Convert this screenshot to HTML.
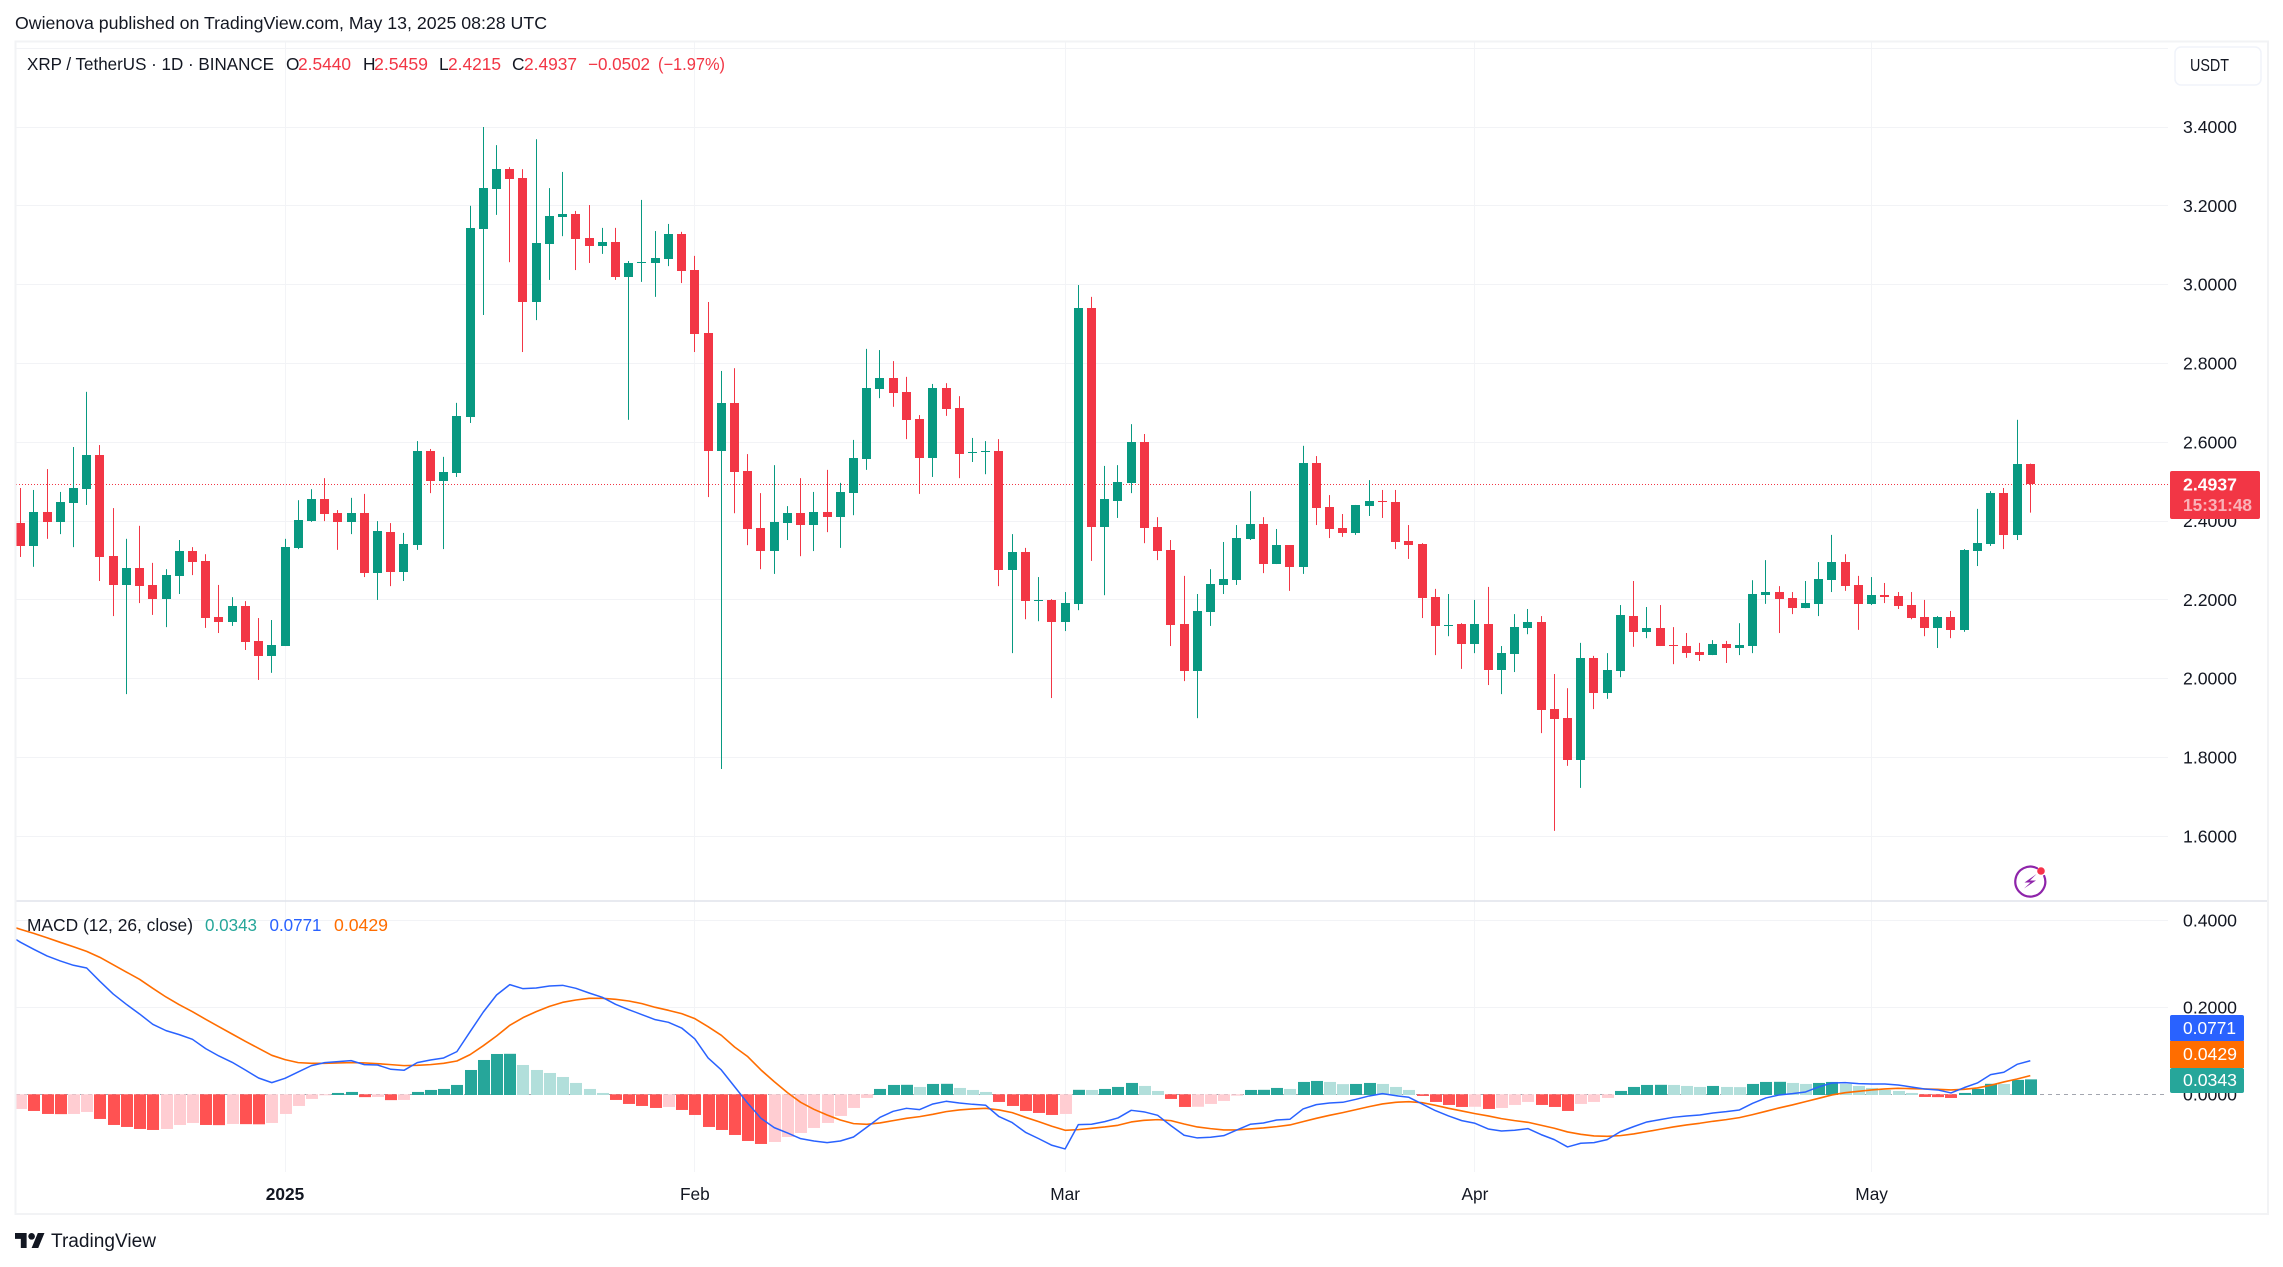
<!DOCTYPE html>
<html lang="en">
<head>
<meta charset="utf-8">
<title>XRP / TetherUS 1D chart</title>
<style>
html,body{margin:0;padding:0;background:#fff}
svg{display:block}
text{font-family:"Liberation Sans",Arial,sans-serif;font-size:17.3px;fill:#131722}
</style>
</head>
<body>
<svg id="chart" xmlns="http://www.w3.org/2000/svg" width="2283" height="1267" viewBox="0 0 2283 1267">
  <rect x="0" y="0" width="2283" height="1267" fill="#ffffff"/>
  <text x="15" y="29" textLength="532" lengthAdjust="spacingAndGlyphs">Owienova published on TradingView.com, May 13, 2025 08:28 UTC</text>

  <g id="grid-layer"></g>
  <line id="last-price-line" x1="16" x2="2168" y1="484.5" y2="484.5" stroke="#f23645" stroke-width="1" stroke-dasharray="1 2"/>
  <g id="candle-layer"></g>

  <line x1="15" x2="2268" y1="901" y2="901" stroke="#e0e3eb" stroke-width="1.5"/>
  <line x1="16" x2="2168" y1="1094.5" y2="1094.5" stroke="#a3a6af" stroke-width="1" stroke-dasharray="4 4"/>
  <defs><clipPath id="macd-clip"><rect x="16" y="902" width="2152" height="270"/></clipPath></defs>
  <g id="histogram-layer" clip-path="url(#macd-clip)"></g>
  <g id="line-layer" clip-path="url(#macd-clip)"></g>

  <g id="axis-layer"></g>

  <g>
    <text x="27" y="70" textLength="247" lengthAdjust="spacingAndGlyphs">XRP / TetherUS · 1D · BINANCE</text>
    <text x="286" y="70">O</text>
    <text x="298" y="70" textLength="53" lengthAdjust="spacingAndGlyphs" style="fill:#f23645">2.5440</text>
    <text x="363" y="70">H</text>
    <text x="374" y="70" textLength="54" lengthAdjust="spacingAndGlyphs" style="fill:#f23645">2.5459</text>
    <text x="439" y="70">L</text>
    <text x="448" y="70" textLength="53" lengthAdjust="spacingAndGlyphs" style="fill:#f23645">2.4215</text>
    <text x="512" y="70">C</text>
    <text x="524" y="70" textLength="53" lengthAdjust="spacingAndGlyphs" style="fill:#f23645">2.4937</text>
    <text x="588" y="70" textLength="62" lengthAdjust="spacingAndGlyphs" style="fill:#f23645">−0.0502</text>
    <text x="658" y="70" textLength="67" lengthAdjust="spacingAndGlyphs" style="fill:#f23645">(−1.97%)</text>
  </g>

  <g>
    <text x="27" y="931" textLength="166" lengthAdjust="spacingAndGlyphs">MACD (12, 26, close)</text>
    <text x="205" y="931" textLength="52" lengthAdjust="spacingAndGlyphs" style="fill:#26a69a">0.0343</text>
    <text x="269.5" y="931" textLength="52" lengthAdjust="spacingAndGlyphs" style="fill:#2962ff">0.0771</text>
    <text x="334" y="931" textLength="54" lengthAdjust="spacingAndGlyphs" style="fill:#ff6d00">0.0429</text>
  </g>

  <g>
    <rect x="2175" y="47" width="86" height="38" rx="6" fill="#ffffff" stroke="#f0f3fa" stroke-width="1.5"/>
    <text x="2190" y="71" textLength="39" lengthAdjust="spacingAndGlyphs">USDT</text>
  </g>

  <g>
    <rect x="2170" y="471" width="90" height="48" rx="2" fill="#f23645"/>
    <text x="2183" y="490.5" textLength="54" lengthAdjust="spacingAndGlyphs" style="fill:#ffffff;font-weight:bold">2.4937</text>
    <text x="2183" y="511" textLength="69" lengthAdjust="spacingAndGlyphs" style="fill:#ffffff;fill-opacity:.62;font-weight:bold">15:31:48</text>
  </g>

  <g>
    <rect x="2170" y="1015" width="74" height="26.5" rx="2" fill="#2962ff"/>
    <text x="2183" y="1034" textLength="53" lengthAdjust="spacingAndGlyphs" style="fill:#ffffff">0.0771</text>
    <rect x="2170" y="1041" width="74" height="27" fill="#ff6d00"/>
    <text x="2183" y="1060" textLength="54" lengthAdjust="spacingAndGlyphs" style="fill:#ffffff">0.0429</text>
    <rect x="2170" y="1068" width="74" height="25" rx="2" fill="#26a69a"/>
    <text x="2183" y="1086" textLength="54" lengthAdjust="spacingAndGlyphs" style="fill:#ffffff">0.0343</text>
  </g>

  <g>
    <path d="M2037 868.2 A15 15 0 1 0 2044.2 876" fill="none" stroke="#8e24aa" stroke-width="2.2" stroke-linecap="round"/>
    <path d="M2036.5 874 L2024.5 882.5 L2030.5 882.5 L2024 888.5 L2036 880.5 L2030 880.5 Z" fill="#8e24aa"/>
    <circle cx="2041" cy="871" r="3.8" fill="#f7334a"/>
  </g>

  <g>
    <g transform="translate(15 1229.7) scale(.83)">
      <path d="M14 22H7V11H0V4h14v18zM28 22h-8l7.5-18h8L28 22z" fill="#131722"/>
      <circle cx="20" cy="8" r="4" fill="#131722"/>
    </g>
    <text x="51" y="1247" textLength="105" lengthAdjust="spacingAndGlyphs" style="font-size:19px">TradingView</text>
  </g>

  <rect x="15.5" y="41.5" width="2252.5" height="1172.5" fill="none" stroke="#f2f3f5" stroke-width="2"/>
</svg>

<script>
const priceTickLabels = ['3.6000','3.4000','3.2000','3.0000','2.8000','2.6000','2.4000','2.2000','2.0000','1.8000','1.6000'];
const macdTickLabels = ['0.4000','0.2000','0.0000'];
const monthLabels = ['2025','Feb','Mar','Apr','May'];
const monthBarIndex = [20,51,79,110,140];

const openPrices = [2.395,2.337,2.423,2.398,2.446,2.481,2.568,2.311,2.238,2.281,
2.238,2.202,2.261,2.324,2.299,2.157,2.144,2.185,2.096,2.058,
2.083,2.332,2.400,2.456,2.420,2.398,2.420,2.268,2.372,2.271,
2.339,2.578,2.502,2.522,2.664,3.141,3.243,3.293,3.271,2.956,
3.103,3.172,3.179,3.118,3.098,3.108,3.019,3.055,3.055,3.065,
3.128,3.037,2.877,2.578,2.700,2.527,2.382,2.324,2.395,2.420,
2.390,2.423,2.410,2.471,2.558,2.735,2.763,2.728,2.659,2.560,
2.738,2.687,2.573,2.575,2.578,2.276,2.322,2.197,2.200,2.144,
2.190,2.941,2.385,2.451,2.497,2.601,2.385,2.327,2.139,2.020,
2.169,2.238,2.250,2.355,2.393,2.291,2.339,2.284,2.547,2.436,
2.382,2.370,2.438,2.451,2.448,2.350,2.342,2.207,2.134,2.139,
2.088,2.139,2.022,2.063,2.129,2.144,1.923,1.900,1.794,2.053,
1.964,2.020,2.159,2.119,2.129,2.086,2.083,2.068,2.060,2.088,
2.078,2.083,2.212,2.220,2.205,2.179,2.190,2.250,2.296,2.238,
2.190,2.212,2.210,2.187,2.157,2.129,2.157,2.124,2.324,2.342,
2.471,2.365,2.5440];

const highPrices = [2.484,2.479,2.532,2.474,2.588,2.728,2.593,2.433,2.355,2.388,
2.294,2.278,2.352,2.334,2.316,2.238,2.207,2.197,2.154,2.149,
2.355,2.453,2.481,2.509,2.428,2.459,2.469,2.400,2.395,2.370,
2.603,2.583,2.563,2.700,3.200,3.400,3.354,3.298,3.293,3.369,
3.245,3.286,3.187,3.202,3.144,3.144,3.060,3.215,3.136,3.154,
3.134,3.073,2.956,2.781,2.788,2.570,2.471,2.542,2.438,2.509,
2.474,2.530,2.497,2.606,2.837,2.834,2.806,2.766,2.669,2.748,
2.750,2.717,2.611,2.603,2.608,2.367,2.332,2.258,2.202,2.220,
2.999,2.969,2.540,2.542,2.646,2.621,2.410,2.352,2.261,2.215,
2.278,2.347,2.390,2.476,2.410,2.380,2.339,2.591,2.565,2.466,
2.418,2.441,2.504,2.479,2.479,2.390,2.344,2.228,2.215,2.141,
2.200,2.233,2.083,2.164,2.177,2.159,2.012,1.976,2.091,2.058,
2.065,2.187,2.248,2.182,2.187,2.131,2.116,2.091,2.098,2.096,
2.141,2.250,2.301,2.235,2.220,2.248,2.296,2.365,2.316,2.261,
2.258,2.243,2.220,2.220,2.200,2.159,2.172,2.329,2.431,2.476,
2.484,2.657,2.5459];

const lowPrices = [2.309,2.284,2.355,2.367,2.334,2.441,2.248,2.159,1.961,2.192,
2.162,2.131,2.215,2.263,2.129,2.116,2.134,2.073,1.997,2.015,
2.083,2.329,2.398,2.400,2.327,2.367,2.258,2.200,2.235,2.248,
2.327,2.471,2.329,2.512,2.649,2.923,3.177,3.057,2.829,2.910,
3.012,3.123,3.037,3.055,3.078,3.012,2.657,3.007,2.969,3.047,
3.004,2.829,2.461,1.771,2.420,2.339,2.278,2.266,2.352,2.311,
2.324,2.372,2.332,2.415,2.530,2.712,2.690,2.608,2.469,2.512,
2.667,2.509,2.550,2.519,2.235,2.065,2.151,2.146,1.951,2.121,
2.174,2.299,2.212,2.408,2.471,2.344,2.301,2.083,1.994,1.900,
2.134,2.215,2.238,2.352,2.268,2.291,2.223,2.266,2.390,2.357,
2.360,2.365,2.413,2.408,2.329,2.304,2.154,2.060,2.108,2.025,
2.065,1.984,1.961,2.017,2.113,1.862,1.614,1.779,1.723,1.923,
1.949,2.004,2.081,2.103,2.083,2.037,2.053,2.045,2.060,2.040,
2.060,2.065,2.190,2.116,2.164,2.179,2.159,2.220,2.223,2.124,
2.187,2.192,2.177,2.151,2.108,2.078,2.103,2.119,2.286,2.337,
2.329,2.352,2.4215];

const closePrices = [2.337,2.423,2.398,2.448,2.484,2.568,2.309,2.238,2.281,2.235,
2.202,2.263,2.324,2.296,2.154,2.144,2.185,2.093,2.058,2.086,
2.334,2.403,2.456,2.418,2.398,2.420,2.268,2.375,2.271,2.342,
2.578,2.502,2.525,2.667,3.144,3.245,3.293,3.268,2.956,3.106,
3.174,3.179,3.116,3.098,3.108,3.019,3.055,3.057,3.068,3.128,
3.035,2.875,2.578,2.700,2.525,2.380,2.324,2.398,2.420,2.390,
2.423,2.410,2.474,2.560,2.738,2.763,2.725,2.657,2.560,2.738,
2.684,2.570,2.575,2.578,2.276,2.322,2.197,2.200,2.144,2.192,
2.941,2.385,2.456,2.499,2.601,2.382,2.324,2.136,2.020,2.172,
2.240,2.253,2.357,2.393,2.291,2.339,2.284,2.547,2.433,2.380,
2.370,2.441,2.451,2.448,2.347,2.339,2.205,2.134,2.136,2.088,
2.139,2.022,2.065,2.131,2.144,1.921,1.898,1.794,2.053,1.964,
2.022,2.162,2.119,2.129,2.083,2.083,2.065,2.060,2.088,2.078,
2.086,2.215,2.220,2.202,2.179,2.192,2.253,2.296,2.235,2.190,
2.212,2.207,2.185,2.154,2.129,2.157,2.124,2.327,2.344,2.471,
2.365,2.545,2.4937];

const histogramValues = [-.0337,-.0383,-.0452,-.0456,-.0452,-.0406,-.0567,-.0705,-.0751,-.0797,
-.0820,-.0797,-.0705,-.0659,-.0705,-.0709,-.0682,-.0686,-.0690,-.0659,
-.0452,-.0268,-.0107,-.0015,.0031,.0054,-.0065,-.0061,-.0134,-.0130,
.0054,.0100,.0123,.0215,.0559,.0789,.0927,.0931,.0674,.0559,
.0490,.0398,.0261,.0123,.0031,-.0130,-.0222,-.0268,-.0314,-.0291,
-.0360,-.0475,-.0751,-.0820,-.0935,-.1073,-.1142,-.1096,-.0981,-.0889,
-.0774,-.0659,-.0498,-.0314,-.0084,.0123,.0215,.0218,.0169,.0238,
.0241,.0146,.0100,.0054,-.0176,-.0268,-.0383,-.0429,-.0475,-.0452,
.0103,.0100,.0123,.0169,.0261,.0192,.0077,-.0107,-.0291,-.0287,
-.0222,-.0153,-.0031,.0100,.0103,.0146,.0123,.0284,.0307,.0284,
.0234,.0238,.0261,.0238,.0169,.0100,-.0038,-.0176,-.0245,-.0291,
-.0287,-.0337,-.0314,-.0245,-.0176,-.0245,-.0291,-.0383,-.0222,-.0176,
-.0084,.0077,.0169,.0215,.0218,.0215,.0192,.0169,.0192,.0169,
.0165,.0238,.0284,.0287,.0261,.0238,.0261,.0284,.0238,.0192,
.0146,.0100,.0077,.0031,-.0061,-.0065,-.0084,.0031,.0123,.0241,
.0238,.0330,.0343];

const lineFirstBar = -1;
const macdLineValues = [.3678,.3494,.3333,.3180,.3065,.2966,.2904,.2598,.2307,.2069,.1847,
.1609,.1464,.1372,.1264,.1050,.0881,.0736,.0559,.0375,.0268,
.0368,.0513,.0659,.0728,.0751,.0774,.0682,.0674,.0575,.0552,
.0728,.0789,.0835,.0981,.1440,.1892,.2283,.2521,.2428,.2444,
.2490,.2505,.2436,.2329,.2229,.2069,.1946,.1831,.1716,.1655,
.1524,.1272,.0835,.0559,.0176,-.0207,-.0552,-.0766,-.0889,-.1019,
-.1073,-.1111,-.1073,-.0981,-.0758,-.0529,-.0391,-.0322,-.0352,-.0222,
-.0161,-.0199,-.0230,-.0253,-.0513,-.0651,-.0873,-.1019,-.1172,-.1256,
-.0697,-.0689,-.0628,-.0544,-.0368,-.0406,-.0483,-.0720,-.0942,-.1003,
-.0988,-.0950,-.0820,-.0689,-.0659,-.0590,-.0575,-.0337,-.0237,-.0199,
-.0184,-.0115,-.0038,.0015,-.0031,-.0069,-.0222,-.0375,-.0498,-.0605,
-.0666,-.0797,-.0843,-.0827,-.0789,-.0927,-.1042,-.1210,-.1126,-.1111,
-.1042,-.0858,-.0743,-.0636,-.0582,-.0529,-.0498,-.0475,-.0429,-.0398,
-.0360,-.0207,-.0084,-.0015,.0015,.0054,.0169,.0261,.0268,.0245,
.0238,.0238,.0215,.0169,.0123,.0100,.0031,.0153,.0261,.0452,
.0506,.0689,.0771];

const signalLineValues = [.3891,.3792,.3700,.3600,.3494,.3393,.3286,.3148,.2980,.2811,.2643,
.2436,.2237,.2061,.1900,.1724,.1555,.1386,.1218,.1057,.0896,
.0797,.0728,.0712,.0712,.0720,.0728,.0720,.0705,.0682,.0659,
.0666,.0682,.0712,.0766,.0912,.1118,.1341,.1586,.1762,.1900,
.2022,.2114,.2168,.2206,.2206,.2183,.2145,.2084,.1999,.1930,
.1854,.1739,.1555,.1356,.1088,.0866,.0559,.0291,.0038,-.0184,
-.0345,-.0475,-.0590,-.0674,-.0689,-.0659,-.0605,-.0552,-.0513,-.0460,
-.0398,-.0360,-.0337,-.0322,-.0360,-.0421,-.0529,-.0628,-.0735,-.0827,
-.0812,-.0781,-.0751,-.0712,-.0636,-.0597,-.0582,-.0605,-.0682,-.0751,
-.0789,-.0820,-.0820,-.0797,-.0774,-.0743,-.0705,-.0628,-.0552,-.0483,
-.0421,-.0352,-.0283,-.0222,-.0184,-.0169,-.0192,-.0253,-.0322,-.0383,
-.0444,-.0498,-.0559,-.0605,-.0643,-.0712,-.0781,-.0865,-.0919,-.0958,
-.0965,-.0950,-.0912,-.0858,-.0804,-.0751,-.0705,-.0666,-.0620,-.0582,
-.0536,-.0467,-.0391,-.0314,-.0245,-.0169,-.0092,-.0015,.0038,.0069,
.0100,.0123,.0138,.0130,.0123,.0115,.0100,.0115,.0146,.0207,
.0284,.0352,.0429];

const SVG_NS = 'http://www.w3.org/2000/svg';
const UP_COLOR = '#089981';
const DOWN_COLOR = '#f23645';
const HIST_COLORS = {upStrong:'#26a69a', upWeak:'#b2dfdb', downStrong:'#ff5252', downWeak:'#ffcdd2'};

function barX(i){ return 20.06 + 13.222 * i; }
function priceY(p){ return 127 + (3.4 - p) * 394.1; }
function macdY(v){ return 1094.3 - v * 435; }

function addShape(parent, tag, props){
  const node = document.createElementNS(SVG_NS, tag);
  Object.keys(props).forEach(function(k){ node.setAttribute(k, props[k]); });
  parent.appendChild(node);
  return node;
}

const gridLayer = document.getElementById('grid-layer');
const axisLayer = document.getElementById('axis-layer');
const candleLayer = document.getElementById('candle-layer');
const histogramLayer = document.getElementById('histogram-layer');
const lineLayer = document.getElementById('line-layer');

monthLabels.forEach(function(label, m){
  const x = Math.round(barX(monthBarIndex[m])) + 0.5;
  const vline = addShape(gridLayer, 'line', {x1:x, x2:x, y1:42, y2:1172, stroke:'#f3f4f7', 'stroke-width':1});
  
  
  const tick = addShape(axisLayer, 'text', {x:barX(monthBarIndex[m]) + 0.5, y:1200, 'text-anchor':'middle'});
  
  
  if (label === '2025') { tick.style.fontWeight = 'bold'; }
  tick.textContent = label;
});

priceTickLabels.forEach(function(label){
  const y = priceY(parseFloat(label));
  const gy = Math.floor(y) + 0.5;
  const hline = addShape(gridLayer, 'line', {x1:16, x2:2168, y1:gy, y2:gy, stroke:'#f2f3f6', 'stroke-width':1});
  
  
  if (label === '3.6000') { return; }
  const tick = addShape(axisLayer, 'text', {x:2183, y:y + 6, textLength:54, lengthAdjust:'spacingAndGlyphs'});
  
  
  tick.textContent = label;
});

macdTickLabels.forEach(function(label){
  const y = macdY(parseFloat(label));
  const gy = Math.floor(y) + 0.5;
  if (parseFloat(label) !== 0) {
    const hline = addShape(gridLayer, 'line', {x1:16, x2:2168, y1:gy, y2:gy, stroke:'#f2f3f6', 'stroke-width':1});
    
    
  }
  const tick = addShape(axisLayer, 'text', {x:2183, y:y + 6, textLength:54, lengthAdjust:'spacingAndGlyphs'});
  
  
  tick.textContent = label;
});

openPrices.forEach(function(open, i){
  const close = closePrices[i];
  const color = close >= open ? UP_COLOR : DOWN_COLOR;
  const px = Math.round(barX(i));
  const yHigh = priceY(highPrices[i]);
  const yLow = priceY(lowPrices[i]);
  const wick = addShape(candleLayer, 'rect', {x:px, y:yHigh, width:1, height:Math.max(1, yLow - yHigh), fill:color});
  
  
  const top = Math.round(priceY(Math.max(open, close)));
  const bottom = Math.round(priceY(Math.min(open, close)));
  const body = addShape(candleLayer, 'rect', {x:px - 4, y:top, width:9, height:Math.max(1, bottom - top), fill:color});
  
  
});

histogramValues.forEach(function(value, i){
  const prev = i > 0 ? histogramValues[i - 1] : value - 0.0001;
  let fill;
  if (value >= 0) { fill = value > prev ? HIST_COLORS.upStrong : HIST_COLORS.upWeak; }
  else { fill = value < prev ? HIST_COLORS.downStrong : HIST_COLORS.downWeak; }
  const y0 = macdY(0);
  const yv = macdY(value);
  const top = Math.min(y0, yv);
  const height = Math.max(1, Math.abs(yv - y0) + (value >= 0 ? 0.7 : 0));
  const bar = addShape(histogramLayer, 'rect', {x:Math.round(barX(i)) - 5, y:top, width:12, height:height, fill:fill});
  
  
});

function linePoints(values){
  return values.map(function(v, k){
    return (barX(k + lineFirstBar) + 0.5).toFixed(2) + ',' + macdY(v).toFixed(2);
  }).join(' ');
}

const signalPath = addShape(lineLayer, 'polyline', {points:linePoints(signalLineValues), fill:'none', stroke:'#ff6d00', 'stroke-width':1.6, 'stroke-linejoin':'round'});



const macdPath = addShape(lineLayer, 'polyline', {points:linePoints(macdLineValues), fill:'none', stroke:'#2962ff', 'stroke-width':1.5, 'stroke-linejoin':'round'});


</script>
</body>
</html>
